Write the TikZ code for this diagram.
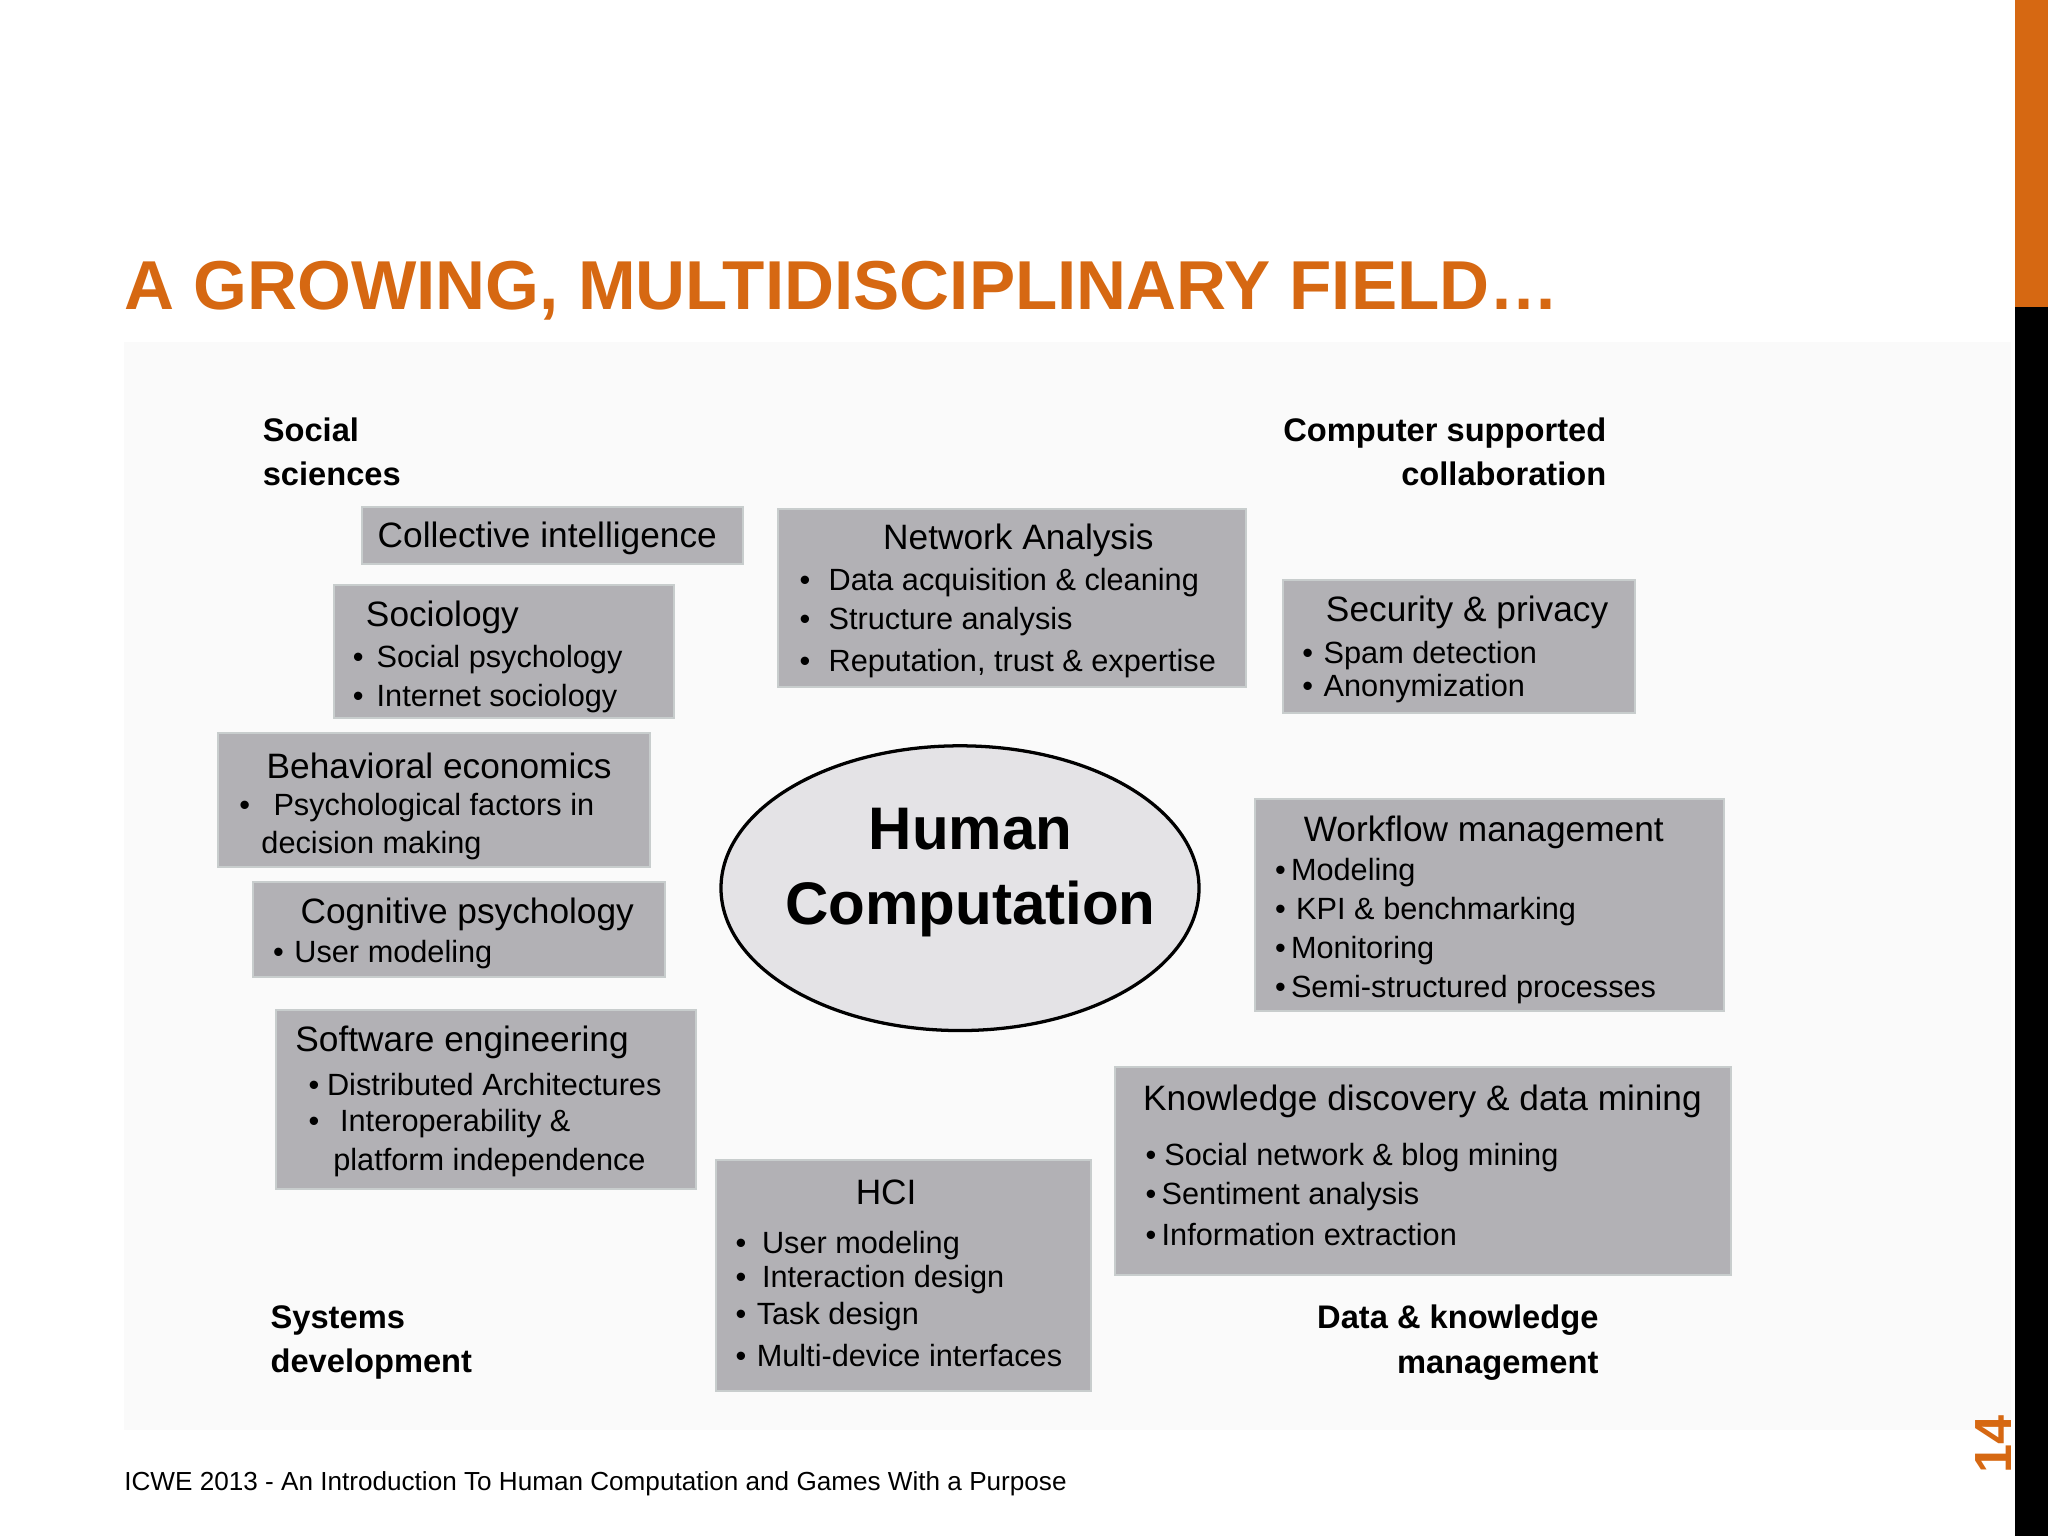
\documentclass[tikz,border=0pt]{standalone}
\usepackage{fontspec}
\setmainfont{Liberation Sans}
\definecolor{org}{RGB}{214,104,18}
\definecolor{bx}{RGB}{178,177,181}
\definecolor{bxl}{RGB}{200,205,205}
\definecolor{ell}{RGB}{228,227,230}
\begin{document}
\begin{tikzpicture}[x=1pt,y=-1pt,
 box/.style={fill=bx,draw=bxl,line width=1.5pt},
 hd/.style={anchor=west,font=\fontsize{27}{30}\selectfont,inner sep=0},
 it/.style={anchor=west,font=\fontsize{23.5}{27}\selectfont,inner sep=0},
 lab/.style={anchor=west,font=\bfseries\fontsize{25}{34}\selectfont,inner sep=0,align=left}]
\useasboundingbox (0,0) rectangle (1568,1176);
\fill[white] (0,0) rectangle (1568,1176);
\fill[gray!4] (95,262) rectangle (1540,1095);
\fill[org] (1543,0) rectangle (1568,235);
\fill[black] (1543,235) rectangle (1568,1176);
\node[anchor=south west,inner sep=0,text=org,font=\bfseries\fontsize{53}{60}\selectfont] (title) at (95,245) {A GROWING, MULTIDISCIPLINARY FIELD…};
\node[lab] (ss) at (201,346) {Social\\sciences};
\node[lab,align=right,anchor=east] (csc) at (1230,346) {Computer supported\\collaboration};
\node[lab] (sd) at (207,1028) {Systems\\development};
\node[lab,align=right,anchor=east] (dkm) at (1224,1028) {Data \& knowledge\\management};
% boxes
\draw[box] (277,388) rectangle (569,432);
\node[hd] (ci) at (289,412) {Collective intelligence};
\draw[box] (596,390) rectangle (954,526);
\node[hd] (na) at (676,414) {Network Analysis};
\node[it] (na1) at (612,446) {•\hspace{14pt}Data acquisition \& cleaning};
\node[it] (na2) at (612,476) {•\hspace{14pt}Structure analysis};
\node[it] (na3) at (612,508) {•\hspace{14pt}Reputation, trust \& expertise};
\draw[box] (256,448) rectangle (516,550);
\node[hd] (so) at (280,473) {Sociology};
\node[it] (so1) at (270,505) {•\hspace{10pt}Social psychology};
\node[it] (so2) at (270,535) {•\hspace{10pt}Internet sociology};
\draw[box] (982,444) rectangle (1252,546);
\node[hd] (sp) at (1015,469) {Security \& privacy};
\node[it] (sp1) at (997,502) {•\hspace{8pt}Spam detection};
\node[it] (sp2) at (997,527) {•\hspace{8pt}Anonymization};
\draw[box] (167,561) rectangle (498,664);
\node[hd] (be) at (204,586) {Behavioral economics};
\node[it] (be1) at (183,618) {•\hspace{18pt}Psychological factors in};
\node[it] (be2) at (200,647) {decision making};
\draw[box] (194,675) rectangle (509,748);
\node[hd] (cp) at (230,700) {Cognitive psychology};
\node[it] (cp1) at (209,731) {•\hspace{8pt}User modeling};
\draw[box] (961,612) rectangle (1320,774);
\node[hd] (wf) at (998,637) {Workflow management};
\node[it] (wf1) at (976,668) {•\hspace{4pt}Modeling};
\node[it] (wf2) at (976,698) {•\hspace{8pt}KPI \& benchmarking};
\node[it] (wf3) at (976,728) {•\hspace{4pt}Monitoring};
\node[it] (wf4) at (976,758) {•\hspace{4pt}Semi-structured processes};
\draw[box] (211,773) rectangle (533,910);
\node[hd] (se) at (226,798) {Software engineering};
\node[it] (se1) at (236,830) {•\hspace{6pt}Distributed Architectures};
\node[it] (se2) at (236,860) {•\hspace{16pt}Interoperability \&};
\node[it] (se3) at (255,890) {platform independence};
\draw[box] (854,817) rectangle (1325,976);
\node[hd] (kd) at (875,843) {Knowledge discovery \& data mining};
\node[it] (kd1) at (877,886) {•\hspace{6pt}Social network \& blog mining};
\node[it] (kd2) at (877,916) {•\hspace{4pt}Sentiment analysis};
\node[it] (kd3) at (877,945) {•\hspace{4pt}Information extraction};
\draw[box] (548,888) rectangle (835,1065);
\node[hd] (hci) at (655,913) {HCI};
\node[it] (h1) at (563,954) {•\hspace{12pt}User modeling};
\node[it] (h2) at (563,980) {•\hspace{12pt}Interaction design};
\node[it] (h3) at (563,1008) {•\hspace{8pt}Task design};
\node[it] (h4) at (563,1038) {•\hspace{8pt}Multi-device interfaces};
\draw[line width=2.5pt,fill=ell] (735,680) ellipse [x radius=183,y radius=109];
\node[inner sep=0,align=center,font=\bfseries\fontsize{46}{58}\selectfont] (hct) at (743,668) {Human\\Computation};
\node[anchor=west,inner sep=0,font=\fontsize{20}{24}\selectfont] (foot) at (95,1136) {ICWE 2013 - An Introduction To Human Computation and Games With a Purpose};
\node[rotate=90,inner sep=0,text=org,font=\bfseries\fontsize{40}{44}\selectfont] (pg) at (1526,1106) {14};
\end{tikzpicture}
\end{document}
